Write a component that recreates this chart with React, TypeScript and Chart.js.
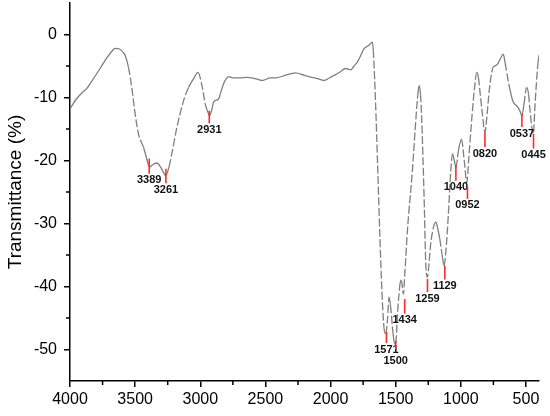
import React, { useEffect, useRef } from "react";
import { Chart, registerables } from "chart.js";
Chart.register(...registerables);

const WAVENUMBERS = [
  4000, 3950, 3900, 3872, 3820, 3769, 3720, 3680, 3654, 3620, 3590, 3577, 3551, 3526, 3500, 3474, 3436, 3410, 3397, 3389,
  3360, 3333, 3300, 3264, 3240, 3218, 3179, 3128, 3090, 3051, 3018, 2987, 2962, 2940, 2928, 2910, 2897, 2859, 2840, 2821,
  2800, 2782, 2744, 2700, 2641, 2580, 2526, 2462, 2423, 2350, 2269, 2200, 2167, 2100, 2051, 2010, 1974, 1930, 1885, 1846,
  1820, 1795, 1770, 1744, 1705, 1679, 1672, 1590, 1577, 1562, 1551, 1540, 1520, 1508, 1500, 1485, 1467, 1456, 1441, 1430,
  1410, 1372, 1346, 1330, 1320, 1310, 1302, 1282, 1269, 1256, 1245, 1231, 1210, 1192, 1175, 1162, 1145, 1128, 1115, 1097,
  1077, 1064, 1050, 1038, 1018, 995, 974, 954, 940, 923, 897, 877, 865, 854, 835, 815, 800, 782, 756, 740,
  718, 700, 674, 660, 641, 620, 602, 564, 545, 531, 515, 495, 480, 469, 444, 430, 410, 400,
];
const TRANSMITTANCE = [
  -11.8, -10.2, -9.1, -8.6, -7.0, -5.4, -3.8, -2.7, -2.2, -2.3, -2.9, -3.3, -5.2, -8.4, -12.6, -15.8, -17.9, -19.8, -20.8, -21.0,
  -20.6, -20.4, -21.2, -22.4, -21.0, -18.9, -14.7, -10.5, -8.4, -7.0, -6.0, -8.1, -11.0, -12.4, -12.9, -11.8, -10.7, -10.2, -9.0, -7.8,
  -7.0, -6.7, -6.9, -6.9, -6.8, -7.0, -7.3, -6.9, -6.9, -6.5, -6.1, -6.5, -6.7, -7.0, -7.3, -6.9, -6.5, -6.0, -5.4, -5.6,
  -5.0, -4.4, -3.4, -2.3, -1.7, -1.2, -2.5, -46.5, -47.5, -45.0, -41.7, -43.0, -47.5, -49.1, -49.0, -44.0, -39.6, -39.0, -41.2, -38.0,
  -31.1, -21.6, -13.7, -9.5, -8.1, -9.5, -12.6, -25.8, -36.4, -38.5, -36.5, -33.2, -30.6, -29.8, -31.0, -32.4, -34.8, -36.7, -34.5, -29.0,
  -21.6, -18.9, -20.0, -21.1, -18.4, -16.6, -20.0, -23.5, -20.0, -15.2, -8.9, -6.0, -6.8, -8.9, -12.5, -15.5, -13.0, -8.9, -5.4, -5.0,
  -4.7, -4.0, -3.1, -4.5, -6.8, -9.0, -10.5, -11.5, -12.2, -12.9, -11.0, -8.4, -9.5, -12.1, -15.8, -11.0, -5.0, -3.3,
];

const X_TICKS = [4000, 3500, 3000, 2500, 2000, 1500, 1000, 500];
const X_MINOR = [3750, 3250, 2750, 2250, 1750, 1250, 750];
const Y_TICKS = [-50, -40, -30, -20, -10, 0];
const Y_MINOR = [-5, -15, -25, -35, -45];

const PEAK_LABELS = ["3389", "3261", "2931", "1571", "1500", "1434", "1259", "1129", "1040", "0952", "0820", "0537", "0445"];
const PEAK_WN = [3392, 3264, 2931, 1571, 1500, 1431, 1256, 1123, 1038, 949, 815, 531, 442];
const PEAK_TOP = [-19.7, -21.3, -12.1, -47.2, -48.6, -42.0, -38.8, -36.7, -20.8, -24.2, -15.5, -12.6, -15.8];
const PEAK_BOTTOM = [-22.1, -23.6, -14.1, -49.0, -49.9, -44.3, -40.9, -38.9, -23.2, -26.1, -17.9, -14.7, -18.1];
const PEAK_LABEL_GAP = [6.5, 6.5, 7, 6.5, 12.5, 6.5, 6.5, 6.5, 6, 6.5, 6.5, 6.5, 6.5];

const FONT = "'Liberation Sans', Arial, sans-serif";

const peakPlugin = {
  id: "peaks",
  afterDatasetsDraw(chart: any) {
    const { ctx, scales } = chart;
    const xs = scales.x;
    const ys = scales.y;
    ctx.save();
    for (let i = 0; i < PEAK_LABELS.length; i++) {
      const x = xs.getPixelForValue(PEAK_WN[i]);
      const y1 = ys.getPixelForValue(PEAK_TOP[i]);
      const y2 = ys.getPixelForValue(PEAK_BOTTOM[i]);
      ctx.strokeStyle = "#ff2a2a";
      ctx.lineWidth = 1.6;
      ctx.beginPath();
      ctx.moveTo(x, y1);
      ctx.lineTo(x, y2);
      ctx.stroke();
      ctx.fillStyle = "#111";
      ctx.font = `bold 11px ${FONT}`;
      ctx.textAlign = "center";
      ctx.textBaseline = "middle";
      ctx.fillText(PEAK_LABELS[i], x, y2 + PEAK_LABEL_GAP[i]);
    }
    ctx.restore();
  },
};

const minorTickPlugin = {
  id: "minorTicks",
  afterDraw(chart: any) {
    const { ctx, scales, chartArea } = chart;
    ctx.save();
    ctx.strokeStyle = "#000";
    ctx.lineWidth = 1.5;
    ctx.beginPath();
    for (const v of X_MINOR) {
      const x = scales.x.getPixelForValue(v);
      ctx.moveTo(x, chartArea.bottom);
      ctx.lineTo(x, chartArea.bottom + 4);
    }
    for (const v of Y_MINOR) {
      const y = scales.y.getPixelForValue(v);
      ctx.moveTo(chartArea.left, y);
      ctx.lineTo(chartArea.left - 4, y);
    }
    ctx.stroke();
    ctx.restore();
  },
};

export default function App() {
  const ref = useRef<HTMLCanvasElement | null>(null);
  useEffect(() => {
    if (!ref.current) return;
    const points = WAVENUMBERS.map((w, i) => ({ x: w, y: TRANSMITTANCE[i] }));
    const chart = new Chart(ref.current, {
      type: "line",
      data: {
        datasets: [
          {
            data: points,
            borderColor: "#7f7f7f",
            borderWidth: 1.3,
            pointRadius: 0,
            tension: 0.4,
            cubicInterpolationMode: "monotone",
            fill: false,
            segment: {
              borderDash: (c: any) => {
                const dx = Math.abs(c.p1.x - c.p0.x);
                const dy = Math.abs(c.p1.y - c.p0.y);
                return dy > 2.5 * dx && dy > 12 ? [8, 2.5] : undefined;
              },
            },
          } as any,
        ],
      },
      options: {
        animation: false,
        responsive: true,
        maintainAspectRatio: false,
        layout: { padding: { top: 3, right: 11, left: 0, bottom: 0 } },
        plugins: { legend: { display: false }, tooltip: { enabled: false } },
        scales: {
          x: {
            type: "linear",
            min: 400,
            max: 4000,
            reverse: true,
            afterBuildTicks: (axis: any) => {
              axis.ticks = X_TICKS.map((v) => ({ value: v }));
            },
            afterFit: (axis: any) => {
              axis.height = 35;
              axis.paddingLeft = 0;
              axis.paddingRight = 0;
              axis.paddingTop = 0;
              axis.paddingBottom = 0;
            },
            grid: { drawOnChartArea: false, drawTicks: true, tickLength: 6, color: "#000", lineWidth: 1.5 },
            border: { display: true, color: "#000", width: 1.5 },
            ticks: {
              color: "#000",
              font: { family: FONT, size: 16 },
              padding: 3,
              maxRotation: 0,
              autoSkip: false,
              callback: (v: any) => String(v),
            },
          },
          y: {
            type: "linear",
            min: -55,
            max: 5,
            afterBuildTicks: (axis: any) => {
              axis.ticks = Y_TICKS.map((v) => ({ value: v }));
            },
            afterFit: (axis: any) => {
              axis.width = 70;
              axis.paddingLeft = 0;
              axis.paddingRight = 0;
              axis.paddingTop = 0;
              axis.paddingBottom = 0;
            },
            grid: { drawOnChartArea: false, drawTicks: true, tickLength: 6, color: "#000", lineWidth: 1.5 },
            border: { display: true, color: "#000", width: 1.5 },
            ticks: {
              color: "#000",
              font: { family: FONT, size: 16 },
              padding: 7,
              autoSkip: false,
              callback: (v: any) => String(v),
            },
            title: {
              display: true,
              text: "Transmittance (%)",
              color: "#000",
              font: { family: FONT, size: 19 },
              padding: { top: 4, bottom: 0 },
            },
          },
        },
      },
      plugins: [peakPlugin, minorTickPlugin],
    });
    return () => chart.destroy();
  }, []);
  return (
    <div style={{ position: "absolute", left: 0, top: 0, width: 550, height: 416, background: "#fff" }}>
      <canvas ref={ref} />
    </div>
  );
}
